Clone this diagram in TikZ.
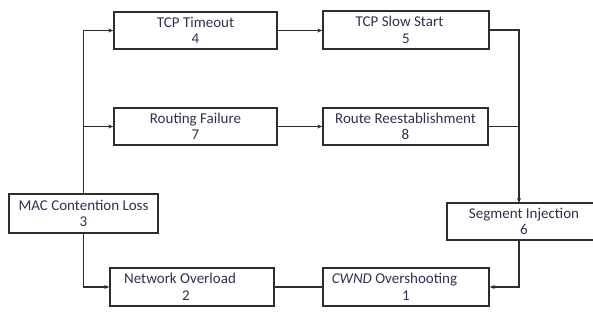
\documentclass[tikz,border=0pt]{standalone}
\usepackage{fontspec}
\setmainfont{Carlito}
\usetikzlibrary{arrows.meta,calc}
\definecolor{txt}{RGB}{52,46,80}
\definecolor{ln}{RGB}{45,45,45}
\tikzset{
  box/.style={draw=ln, line width=1.4pt, rectangle, inner sep=0pt, align=center,
    text=txt, font=\fontsize{15}{16.5}\selectfont},
  conn/.style={draw=ln, line width=1.2pt},
  arr/.style={conn, -{Stealth[length=5pt,width=4pt]}}
}
\begin{document}
\begin{tikzpicture}[x=1pt,y=-1pt]
\useasboundingbox (0,0) rectangle (593,321);
\clip (0,0) rectangle (593,321);
\node[box, minimum width=163pt, minimum height=37pt] (to) at (195.5,30.5) {TCP Timeout\\4};
\node[box, minimum width=166pt, minimum height=38pt] (ss) at (406,30) {TCP Slow Start\hspace*{13pt}\\5};
\node[box, minimum width=163pt, minimum height=37pt] (rf) at (195.5,126.5) {Routing Failure\\7};
\node[box, minimum width=165pt, minimum height=37pt] (rr) at (405.5,126.5) {Route Reestablishment\\8};
\node[box, minimum width=149pt, minimum height=39pt] (mac) at (83.5,213.5) {MAC Contention Loss\\3};
\node[box, minimum width=164pt, minimum height=38pt] (no) at (192,287) {Network Overload\hspace*{24pt}\\2\hspace*{12pt}};
\node[box, minimum width=166pt, minimum height=38pt] (cw) at (406,287) {\textit{CWND} Overshooting\hspace*{23pt}\\1};
\node[box, minimum width=154pt, minimum height=37pt] (si) at (524,221.5) {Segment Injection\\6};
\coordinate (lbr) at (83.5,126.5);
\coordinate (rtop) at (519,30);
\coordinate (sitop) at (519,203);
\coordinate (sibot) at (519,240);
% left branch
\draw[conn] (mac.north) -- (lbr);
\draw[arr] (mac.north) |- (to.west);
\draw[arr] (lbr) -- (rf.west);
% middle
\draw[arr] (to.east) -- (to.east -| ss.west);
\draw[arr] (rf.east) -- (rr.west);
% right branch
\draw[arr] (ss.east) -| (sitop);
\draw[conn] (rr.east) -- (rr.east -| sitop);
\draw[arr] (sibot) |- (cw.east);
% bottom
\draw[conn] (cw.west) -- (no.east);
\draw[arr] (mac.south) |- (no.west);
\end{tikzpicture}
\end{document}
